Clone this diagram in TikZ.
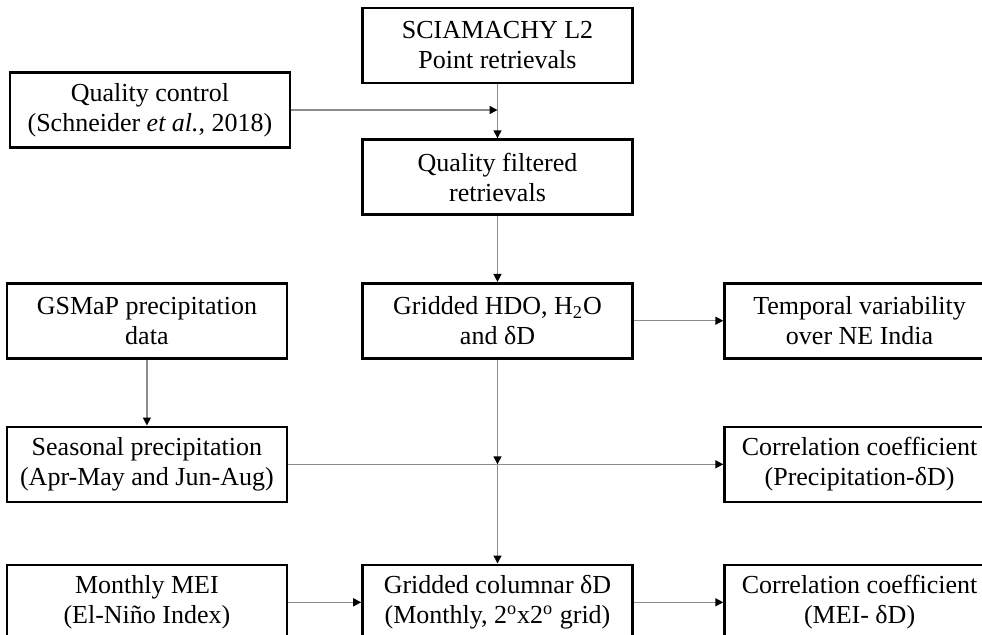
\documentclass[tikz,border=0pt]{standalone}
\usepackage{fontspec}
\setmainfont{Liberation Serif}
\usepackage{tikz}
\usetikzlibrary{arrows.meta, positioning}

\begin{document}
\begin{tikzpicture}[
    x=0.5pt, y=-0.5pt,
    every node/.style={font=\fontsize{13}{15}\selectfont, align=center},
    stage/.style={draw=black, line width=1.3pt, fill=white,
                  minimum width=135pt, minimum height=37.5pt, inner sep=2pt},
    side/.style={stage, minimum width=140pt},
    flow/.style={draw=black!45, line width=0.7pt,
                 -{Triangle[length=4pt, width=4pt, color=black]}}
]
\useasboundingbox (0,0) rectangle (982,634);
\node[stage] (sci) at (497.5,45.5) {SCIAMACHY L2\\Point retrievals};
\node[stage, below=27pt of sci] (qf) {Quality filtered\\retrievals};
\node[stage, below=33pt of qf] (hdo) {Gridded HDO, H\textsubscript{2}O\\and δD};
\node[stage, below=102pt of hdo] (col) {Gridded columnar δD\\(Monthly, 2\textsuperscript{o}x2\textsuperscript{o} grid)};
\node[side] (qc) at (150,110) {Quality control\\(Schneider \textit{et al.}, 2018)};
\node[side, left=36.5pt of hdo] (gsmap) {GSMaP precipitation\\data};
\node[side, below=33pt of gsmap] (seas) {Seasonal precipitation\\(Apr-May and Jun-Aug)};
\node[side, left=36.5pt of col] (mei) {Monthly MEI\\(El-Niño Index)};
\node[stage, right=44.75pt of hdo] (temp) {Temporal variability\\over NE India};
\node[stage, below=33pt of temp] (corr1) {Correlation coefficient\\(Precipitation-δD)};
\node[stage, right=44.75pt of col] (corr2) {Correlation coefficient\\(MEI- δD)};
\coordinate (qcjoin) at (qc.east -| sci.south);
\coordinate (cross) at (hdo.south |- seas.east);
\draw[flow] (sci) -- (qf);
\draw[flow] (qc.east) -- (qcjoin);
\draw[flow] (qf) -- (hdo);
\draw[flow] (hdo) -- (temp);
\draw[flow] (gsmap) -- (seas);
\draw[flow] (seas) -- (corr1);
\draw[flow] (hdo) -- (cross);
\draw[flow] (cross) -- (col);
\draw[flow] (mei) -- (col);
\draw[flow] (col) -- (corr2);
\end{tikzpicture}
\end{document}
